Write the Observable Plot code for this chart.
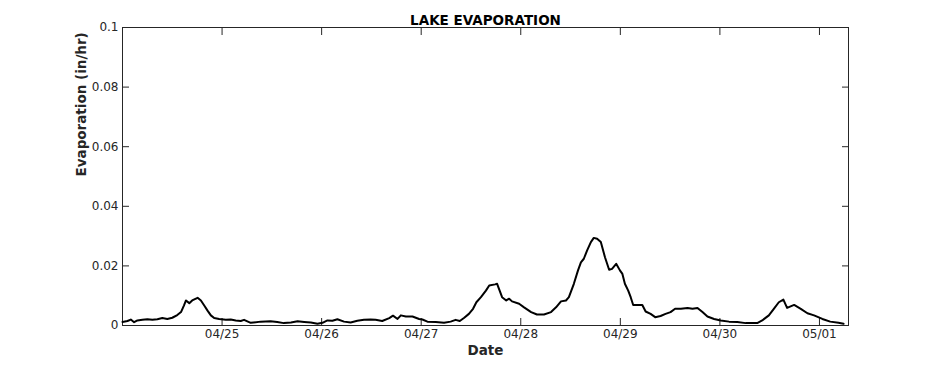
<!DOCTYPE html>
<html><head><meta charset="utf-8">
<script src="https://cdn.jsdelivr.net/npm/d3@7"></script>
<script src="https://cdn.jsdelivr.net/npm/@observablehq/plot@0.6"></script>
<style>html,body{margin:0;padding:0;background:#fff;} svg{display:block}</style>
</head><body><div id="chart"></div>
<script>
const startTime = "2024-04-24T00:00:00Z";
const endHour = 175;
const hours = [0,1.2,2.0,2.8,3.6,4.8,6.0,7.2,8.4,9.6,
  10.8,12.0,13.2,14.1,14.8,15.3,16.1,16.8,18.1,18.9,
  19.7,20.5,21.3,22.1,23.3,24.9,26.1,27.3,28.5,29.3,
  30.9,33.3,35.7,37.3,38.9,40.6,42.2,43.8,45.4,47.0,
  48.2,49.4,50.6,51.8,53.4,55.0,56.6,58.2,59.8,61.0,
  62.6,64.3,65.2,66.3,67.1,68.3,69.9,71.5,72.3,73.5,
  75.5,77.5,79.1,80.3,81.3,82.3,83.5,84.5,85.3,86.4,
  87.6,88.4,89.8,90.3,91.5,92.5,93.2,93.9,95.6,96.8,
  98.5,99.9,101.6,103.3,104.5,105.7,106.9,107.6,108.8,109.8,
  110.5,111.2,112.0,112.9,113.6,114.4,115.3,116.3,117.3,118.0,
  119.0,119.9,120.5,121.1,121.9,122.5,123.1,125.3,126.1,127.3,
  128.4,129.7,130.9,132.1,133.2,134.6,136.2,137.4,138.6,139.8,
  141.0,142.6,144.2,146.2,148.2,150.2,153.0,154.2,155.8,157.0,
  158.2,159.3,160.2,161.9,163.5,165.1,166.7,168.7,170.6,172.6,173.8];
const evap = [.0012,.0015,.0020,.0011,.0017,.0019,.0021,.0019,.0021,.0025,
  .0022,.0026,.0035,.0045,.0067,.0084,.0075,.0084,.0093,.0084,
  .0067,.0050,.0034,.0025,.0022,.0019,.0020,.0017,.0015,.0019,
  .0009,.0013,.0014,.0012,.0008,.0010,.0014,.0012,.0010,.0006,
  .0009,.0017,.0016,.0021,.0013,.0010,.0016,.0019,.0020,.0019,
  .0015,.0025,.0033,.0022,.0034,.0030,.0030,.0022,.0020,.0013,
  .0012,.0009,.0013,.0019,.0015,.0025,.0039,.0056,.0078,.0095,
  .0117,.0134,.0138,.0140,.0095,.0084,.0090,.0081,.0073,.0061,
  .0045,.0037,.0037,.0045,.0061,.0081,.0084,.0095,.0140,.0185,
  .0212,.0224,.0252,.0280,.0294,.0291,.0280,.0229,.0187,.0190,
  .0207,.0185,.0173,.0140,.0117,.0095,.0069,.0069,.0047,.0039,
  .0028,.0032,.0039,.0045,.0056,.0056,.0059,.0056,.0059,.0045,
  .0030,.0022,.0017,.0013,.0012,.0008,.0008,.0017,.0034,.0056,
  .0078,.0087,.0059,.0069,.0056,.0041,.0034,.0022,.0013,.0009,.0006];
const xTickDates = ["2024-04-25","2024-04-26","2024-04-27","2024-04-28","2024-04-29","2024-04-30","2024-05-01"];
const xTickLabels = ["04/25","04/26","04/27","04/28","04/29","04/30","05/01"];
const yTicks = [0, 0.02, 0.04, 0.06, 0.08, 0.1];
const yTickLabels = ["0","0.02","0.04","0.06","0.08","0.1"];
const title = "LAKE EVAPORATION";
const xLabel = "Date";
const yLabel = "Evaporation (in/hr)";

const t0 = new Date(startTime);
const toDate = h => new Date(t0.getTime() + h * 3600e3);
const data = hours.map((h, i) => ({t: toDate(h), v: evap[i]}));
const xTicks = xTickDates.map(s => new Date(s + "T00:00:00Z"));
const xFmt = d => xTickLabels[xTicks.findIndex(t => +t === +d)];
const yFmt = d => yTickLabels[yTicks.indexOf(d)];
const ink = "#262626";

const chart = Plot.plot({
  width: 938, height: 365,
  marginLeft: 122, marginRight: 90, marginTop: 27, marginBottom: 40,
  style: {fontFamily: "DejaVu Sans", fontSize: "12px", color: ink, background: "white", overflow: "visible"},
  x: {type: "utc", domain: [t0, toDate(endHour)]},
  y: {domain: [0, 0.1]},
  marks: [
    Plot.frame({stroke: ink}),
    Plot.axisX(xTicks, {anchor: "bottom", tickSize: -7, tickPadding: 11, tickFormat: xFmt, label: null}),
    Plot.axisX(xTicks, {anchor: "top", tickSize: -7, tickFormat: () => "", label: null}),
    Plot.axisY(yTicks, {anchor: "left", tickSize: -7, tickPadding: 11, tickFormat: yFmt, label: null}),
    Plot.axisY(yTicks, {anchor: "right", tickSize: -7, tickFormat: () => "", label: null}),
    Plot.line(data, {x: "t", y: "v", stroke: "black", strokeWidth: 2}),
    Plot.text([title], {frameAnchor: "top", dy: -12, fontWeight: "bold", fontSize: 13.5, fill: "black"}),
    Plot.text([xLabel], {frameAnchor: "bottom", dy: 29, fontWeight: "bold", fontSize: 13.5, fill: ink}),
    Plot.text([yLabel], {frameAnchor: "left", dx: -41, rotate: -90, fontWeight: "bold", fontSize: 13.5, fill: ink})
  ]
});
document.getElementById("chart").appendChild(chart);
</script>
</body></html>
